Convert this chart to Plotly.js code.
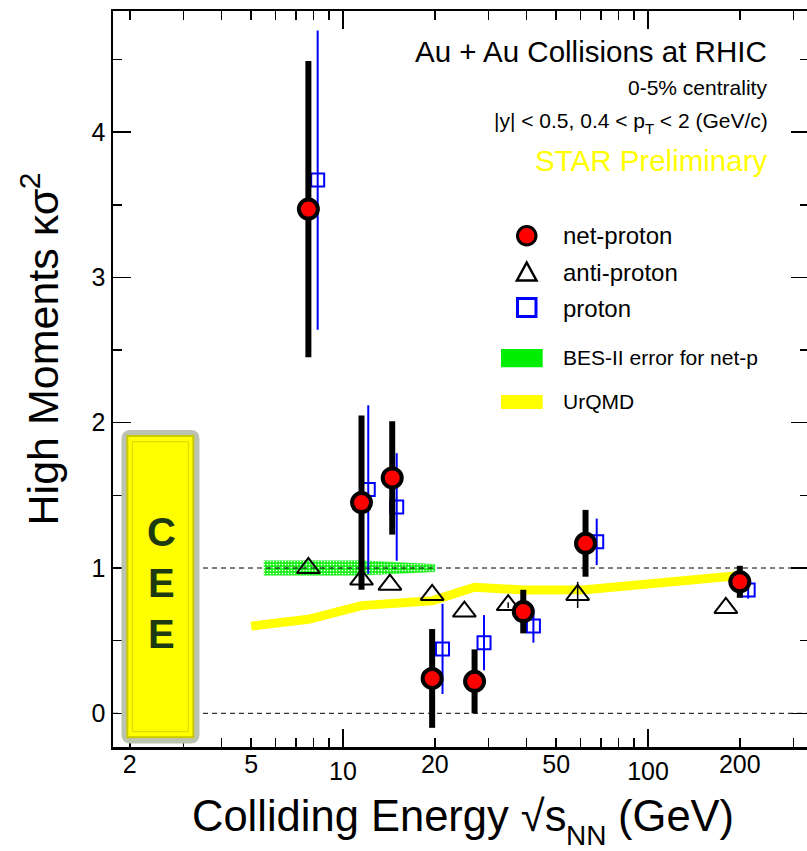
<!DOCTYPE html>
<html>
<head>
<meta charset="utf-8">
<script src="https://cdn.plot.ly/plotly-3.0.1.min.js"></script>
<style>html,body{margin:0;padding:0;overflow:hidden;background:#fff;}#chart{width:809px;height:851px;}</style>
</head>
<body>
<div id="chart"></div>
<script>
// ---------------- data ----------------
const E_netp   = [7.7, 11.5, 14.5, 19.6, 27, 39, 62.4, 200];
const netp     = [3.47, 1.45, 1.62, 0.24, 0.22, 0.70, 1.17, 0.905];
const netpErr  = [1.02, 0.60, 0.39, 0.34, 0.22, 0.15, 0.23, 0.11];

const E_proton  = [8.26, 12.1, 15.0, 21.2, 29.0, 42.1, 67.9, 213];
const proton    = [3.67, 1.54, 1.42, 0.443, 0.486, 0.601, 1.18, 0.849];
const protonErr = [1.03, 0.58, 0.37, 0.31, 0.19, 0.115, 0.16, 0.06];

const E_antip  = [7.7, 11.5, 14.25, 19.6, 25.0, 34.8, 58.8, 180];
const antip    = [1.00, 0.92, 0.885, 0.815, 0.70, 0.745, 0.815, 0.725];
const antipErr = [0, 0, 0, 0, 0, 0.02, 0.09, 0];

const E_urqmd = [5.0, 7.7, 11.5, 19.6, 27, 39, 62.4, 200];
const urqmd   = [0.60, 0.647, 0.741, 0.775, 0.868, 0.849, 0.851, 0.948];

const E_bes      = [5.5, 7.7, 11.5, 14.5, 20];
const besCenter  = [1, 1, 1, 1, 1];
const besErr     = [0.05, 0.05, 0.05, 0.04, 0.025];

const majorXTicks   = [10, 100];
const majorXText    = ['10', '100'];
const labelMinorX   = [2, 5, 20, 50, 200];
const labelMinorTxt = ['2', '5', '20', '50', '200'];
const plainMinorX   = [3, 4, 6, 7, 8, 9, 30, 40, 60, 70, 80, 90, 300];
const yTicks        = [0, 1, 2, 3, 4];

// ---------------- geometry helpers (decoration only) ----------------
const L = 113, R = 809, T = 11, B = 747;
const fx = px => (px - L) / (R - L);
const fy = py => (B - py) / (B - T);
const FONT = 'Liberation Sans, Arial, Helvetica, sans-serif';
const ASC = 0.3465; // centre of text box above baseline, in em

const cv = document.createElement('canvas').getContext('2d');
function measure(t, size, bold) {
  cv.font = (bold ? 'bold ' : '') + size + 'px "Liberation Sans", Arial, sans-serif';
  return cv.measureText(t).width;
}

function roundRect(x0, y0, x1, y1, r) {
  const a = fx(x0), b = fx(x1), c = fy(y0), d = fy(y1);
  const rx = r / (R - L), ry = r / (B - T);
  return `M${a+rx},${c} L${b-rx},${c} Q${b},${c} ${b},${c-ry} L${b},${d+ry} Q${b},${d} ${b-rx},${d} L${a+rx},${d} Q${a},${d} ${a},${d+ry} L${a},${c-ry} Q${a},${c} ${a+rx},${c} Z`;
}

// horizontal multi-piece text (sub/superscripts) placed on a common baseline
function pieces(parts, anchorX, align, baseY, color) {
  const widths = parts.map(p => measure(p.t, p.size));
  const total = widths.reduce((a, b) => a + b, 0);
  let x = align === 'right' ? anchorX - total : anchorX - total / 2;
  return parts.map((p, i) => {
    const a = {text: p.t, xref:'paper', yref:'paper', showarrow:false, borderpad:0,
      x: fx(x + widths[i] / 2), y: fy(baseY + (p.shift || 0) - ASC * p.size),
      xanchor:'center', yanchor:'middle', font:{family:FONT, size:p.size, color: color || '#000'}};
    x += widths[i];
    return a;
  });
}

// vertical (reading upward) multi-piece text
function vpieces(parts, baseX, centerY) {
  const widths = parts.map(p => measure(p.t, p.size));
  const total = widths.reduce((a, b) => a + b, 0);
  let y = centerY + total / 2;
  return parts.map((p, i) => {
    const a = {text: p.t, xref:'paper', yref:'paper', showarrow:false, borderpad:0, textangle:-90,
      x: fx(baseX - (p.shift || 0) - ASC * p.size), y: fy(y - widths[i] / 2),
      xanchor:'center', yanchor:'middle', font:{family:FONT, size:p.size, color:'#000'}};
    y -= widths[i];
    return a;
  });
}

// ---------------- traces ----------------
const besX = E_bes.concat(E_bes.slice().reverse());
const besY = E_bes.map((e,i)=>besCenter[i]+besErr[i]).concat(E_bes.map((e,i)=>besCenter[i]-besErr[i]).reverse());

const traces = [
  {x: besX, y: besY, type:'scatter', mode:'lines', fill:'toself',
   fillcolor:'#22f022', line:{color:'#22ee22', width:0.5},
   fillpattern:{shape:'.', fgcolor:'#ffffff', bgcolor:'#11ee11', size:3, solidity:0.25},
   hoverinfo:'skip'},
  {x: E_urqmd, y: urqmd, type:'scatter', mode:'lines',
   line:{color:'#ffff00', width:9}},
  {x: E_antip, y: antip, type:'scatter', mode:'markers',
   marker:{symbol:'triangle-up-open', size:20, color:'#000', line:{width:2, color:'#000'}},
   error_y:{type:'data', array: antipErr, visible:true, color:'#000', thickness:1.5, width:0}},
  {x: E_proton, y: proton, type:'scatter', mode:'markers',
   marker:{symbol:'square-open', size:13, color:'#0000ff', line:{width:2, color:'#0000ff'}},
   error_y:{type:'data', array: protonErr, visible:true, color:'#0000ff', thickness:2, width:0}},
  {x: E_netp, y: netp, type:'scatter', mode:'markers',
   marker:{symbol:'circle', size:19, color:'#ff0000', line:{width:4, color:'#000'}},
   error_y:{type:'data', array: netpErr, visible:true, color:'#000', thickness:6, width:0}},
  {x: [], y: [], xaxis:'x2', type:'scatter', mode:'markers', hoverinfo:'skip'},
  {x: [], y: [], xaxis:'x3', type:'scatter', mode:'markers', hoverinfo:'skip'}
];

const xRange = [1 + (L - 343) / 305, 1 + (R - 343) / 305];
const yRange = [(713.3 - B) / 145.3, (713.3 - T) / 145.3];

const axisCommon = {
  showgrid:false, zeroline:false, ticks:'inside', tickcolor:'#000', tickwidth:1.5,
  tickfont:{family:FONT, size:25, color:'#000'}
};

const shapes = [
  {type:'line', xref:'paper', yref:'y', x0:0, x1:1, y0:1, y1:1, layer:'above',
   line:{color:'#000', width:1, dash:'5px,4px'}},
  {type:'line', xref:'paper', yref:'y', x0:0, x1:1, y0:0, y1:0, layer:'above',
   line:{color:'#000', width:1, dash:'5px,4px'}},
  // CEE box
  {type:'path', xref:'paper', yref:'paper', path: roundRect(121.5, 430, 199.5, 743.5, 9), layer:'above',
   fillcolor:'#bcc2b0', line:{width:0}},
  {type:'rect', xref:'paper', yref:'paper', x0:fx(127.3), x1:fx(193.3), y0:fy(737.3), y1:fy(436), layer:'above',
   fillcolor:'#ffff00', line:{color:'#c9c900', width:2}},
  {type:'rect', xref:'paper', yref:'paper', x0:fx(132.3), x1:fx(188.3), y0:fy(731.7), y1:fy(441.7), layer:'above',
   fillcolor:'rgba(0,0,0,0)', line:{color:'#d6d600', width:1}},
  // legend symbols
  {type:'circle', xref:'paper', yref:'paper', x0:fx(517.5), x1:fx(536), y0:fy(245), y1:fy(226.5), layer:'above',
   fillcolor:'#ff0000', line:{color:'#000', width:3}},
  {type:'path', xref:'paper', yref:'paper', layer:'above',
   path:`M${fx(526.7)},${fy(262.5)} L${fx(536.5)},${fy(280.5)} L${fx(516.9)},${fy(280.5)} Z`,
   fillcolor:'rgba(0,0,0,0)', line:{color:'#000', width:2.5}},
  {type:'rect', xref:'paper', yref:'paper', x0:fx(517.5), x1:fx(536), y0:fy(316.5), y1:fy(298.5), layer:'above',
   fillcolor:'rgba(0,0,0,0)', line:{color:'#0000ff', width:3}},
  {type:'rect', xref:'paper', yref:'paper', x0:fx(501), x1:fx(542.7), y0:fy(367.3), y1:fy(349), layer:'above',
   fillcolor:'#00ee00', line:{width:0}},
  {type:'rect', xref:'paper', yref:'paper', x0:fx(501), x1:fx(542.7), y0:fy(409), y1:fy(395), layer:'above',
   fillcolor:'#ffff00', line:{width:0}}
];

function ann(text, px, py, size, opts) {
  return Object.assign({text, xref:'paper', yref:'paper', x:fx(px), y:fy(py), showarrow:false, borderpad:0,
    xanchor:'left', yanchor:'middle', font:{family:FONT, size, color:'#000'}}, opts||{});
}

const annotations = [
  ann('Au + Au Collisions at RHIC', 768.3, 51, 29.5, {xanchor:'right'}),
  ann('0-5% centrality', 768.3, 87, 21, {xanchor:'right'}),
  ...pieces([{t:'|y| < 0.5, 0.4 < p', size:21}, {t:'T', size:15, shift:6}, {t:' < 2 (GeV/c)', size:21}],
            768.3, 'right', 127.5),
  ann('STAR Preliminary', 768.3, 160, 29.5, {xanchor:'right', font:{family:FONT, size:29.5, color:'#ffff00'}}),
  ann('net-proton', 561.7, 235, 24),
  ann('anti-proton', 561.7, 272.5, 24),
  ann('proton', 561.7, 308, 24),
  ann('BES-II error for net-p', 561.7, 358, 21),
  ann('UrQMD', 561.7, 401, 21),
  ann('<b>C</b>', 161.7, 531.7, 40, {xanchor:'center', font:{family:FONT, size:40, color:'#1e3a12'}}),
  ann('<b>E</b>', 161.7, 582.5, 40, {xanchor:'center', font:{family:FONT, size:40, color:'#1e3a12'}}),
  ann('<b>E</b>', 161.7, 634, 40, {xanchor:'center', font:{family:FONT, size:40, color:'#1e3a12'}}),
  ...pieces([{t:'Colliding Energy √s', size:43.5}, {t:'NN', size:28, shift:14}, {t:' (GeV)', size:43.5}],
            463, 'center', 831.5),
  ...vpieces([{t:'High Moments κσ', size:43}, {t:'2', size:30, shift:18}], 58, 349)
];

const layout = {
  width: 809, height: 851,
  margin:{l:L, r:0, t:T, b:851-B, pad:0},
  paper_bgcolor:'#fff', plot_bgcolor:'#fff',
  showlegend:false,
  xaxis: Object.assign({}, axisCommon, {
    type:'log', range:xRange, tickmode:'array', tickvals:majorXTicks, ticktext:majorXText,
    ticklen:18, showline:true, linecolor:'#000', linewidth:2.5, mirror:'ticks'}),
  xaxis2: Object.assign({}, axisCommon, {
    type:'log', range:xRange, overlaying:'x', anchor:'y', side:'bottom',
    tickmode:'array', tickvals:labelMinorX, ticktext:labelMinorTxt,
    ticklen:9, showline:false, mirror:'ticks'}),
  xaxis3: Object.assign({}, axisCommon, {
    type:'log', range:xRange, overlaying:'x', anchor:'y', side:'bottom',
    tickmode:'array', tickvals:plainMinorX, showticklabels:false,
    ticklen:9, showline:false, mirror:'ticks'}),
  yaxis: Object.assign({}, axisCommon, {
    range:yRange, tickmode:'array', tickvals:yTicks, ticklen:18,
    minor:{dtick:0.5, tick0:0, ticklen:9, ticks:'inside', tickcolor:'#000', tickwidth:1.5},
    showline:true, linecolor:'#000', linewidth:2.5, mirror:'ticks'}),
  shapes, annotations
};

Plotly.newPlot('chart', traces, layout, {displayModeBar:false, staticPlot:true});
</script>
</body>
</html>
